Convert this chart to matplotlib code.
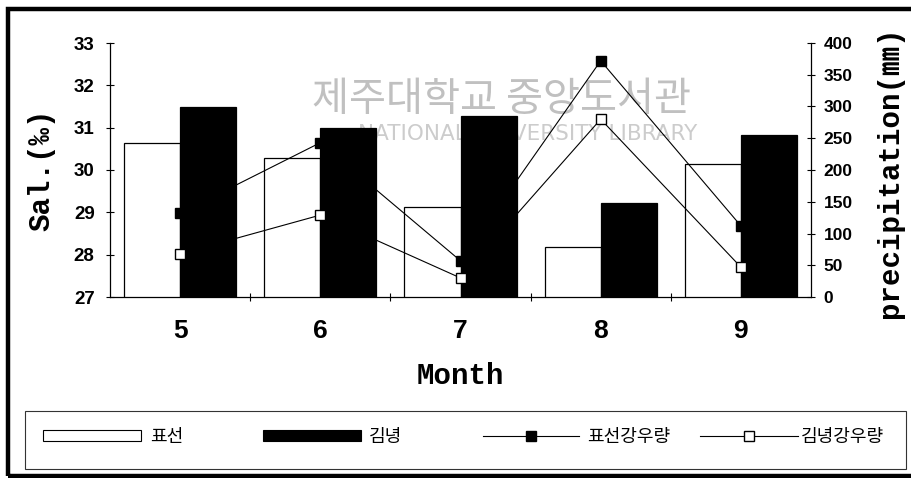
import numpy as np
import matplotlib
matplotlib.use("Agg")
import matplotlib.pyplot as plt
from matplotlib.patches import Patch, Rectangle
from matplotlib.lines import Line2D

# data
months = [5, 6, 7, 8, 9]
month_labels = ["5", "6", "7", "8", "9"]
sal_pyoseon = [30.64, 30.29, 29.13, 28.18, 30.14]
sal_gimnyeong = [31.5, 31.0, 31.28, 29.22, 30.83]
rain_pyoseon = [132, 243, 57, 372, 112]
rain_gimnyeong = [68, 129, 30, 280, 47]
series_names = ["표선", "김녕", "표선강우량", "김녕강우량"]
sal_ticks = [27, 28, 29, 30, 31, 32, 33]
rain_ticks = [0, 50, 100, 150, 200, 250, 300, 350, 400]

W, H = 911, 478
mono = ["Liberation Mono", "Noto Sans CJK KR"]
kr = "Noto Sans CJK KR"

fig = plt.figure(figsize=(W / 100, H / 100), dpi=100)
ax = fig.add_axes([110 / W, 181 / H, 701 / W, 254 / H])

x = np.array(months)

# watermark behind the bars
ax.text(501 / W, 1 - 99 / H, "제주대학교 중앙도서관", transform=fig.transFigure,
        ha="center", va="center", fontsize=29, family=kr, color="#c0c0c0", zorder=0.5)
ax.text(697 / W, 1 - 134 / H, "NATIONAL UNIVERSITY LIBRARY", transform=fig.transFigure,
        ha="right", va="center", fontsize=15.5, family="DejaVu Sans", color="#cccccc", zorder=0.5)

ax.bar(x - 0.2, sal_pyoseon, 0.4, color="white", edgecolor="black", linewidth=0.9)
ax.bar(x + 0.2, sal_gimnyeong, 0.4, color="black", edgecolor="black", linewidth=0.9)
ax.set_xlim(4.5, 9.5)
ax.set_ylim(27, 33)

axp = ax.twinx()
axp.plot(x, rain_pyoseon, color="black", lw=0.8, marker="s", ms=7,
         mfc="black", mec="black")
axp.plot(x, rain_gimnyeong, color="black", lw=0.8, marker="s", ms=7,
         mfc="white", mec="black")
axp.set_ylim(0, 400)

# ticks
ax.set_xticks(months)
ax.set_xticklabels(month_labels, fontsize=19, fontweight="bold", family="Liberation Sans")
ax.set_xticks(x[:-1] + 0.5, minor=True)
ax.tick_params(axis="x", which="major", length=0, pad=16)
ax.tick_params(axis="x", which="minor", length=6, direction="inout", width=0.8)
ax.set_yticks(sal_ticks)
ax.set_yticklabels([str(t) for t in sal_ticks], fontsize=13.5, fontweight="bold",
                   family="Liberation Sans")
ax.tick_params(axis="y", direction="inout", length=6, width=0.8, pad=8)
axp.set_yticks(rain_ticks)
axp.set_yticklabels([str(t) for t in rain_ticks], fontsize=12.5, fontweight="bold",
                    family="Liberation Sans")
axp.tick_params(axis="y", direction="inout", length=6, width=0.8, pad=6)

for s in ["top", "right"]:
    ax.spines[s].set_visible(False)
for s in ["top", "left", "bottom"]:
    axp.spines[s].set_visible(False)
ax.spines["left"].set_linewidth(0.9)
ax.spines["bottom"].set_linewidth(0.9)
axp.spines["right"].set_linewidth(0.9)

# axis labels
ax.set_xlabel("Month", fontsize=21, fontweight="bold", family=mono, va="center")
ax.xaxis.set_label_coords(0.5, (297 - 376) / 254)
ax.set_ylabel("Sal.(‰)", fontsize=21, fontweight="bold", family=mono, va="center")
ax.yaxis.set_label_coords((41 - 110) / 701, 0.5)
axp.set_ylabel("precipitation(㎜)", fontsize=21, fontweight="bold", family=mono,
               va="center", rotation=90)
axp.yaxis.set_label_coords((890 - 110) / 701, 0.49)

# legend, one entry per column
handles = [
    Patch(facecolor="white", edgecolor="black", linewidth=0.8),
    Patch(facecolor="black", edgecolor="black", linewidth=0.8),
    Line2D([], [], color="black", lw=0.8, marker="s", ms=7, mfc="black", mec="black"),
    Line2D([], [], color="black", lw=0.8, marker="s", ms=7, mfc="white", mec="black"),
]
starts = [43, 263, 483, 700]
hlens = [5.4, 5.4, 5.3, 5.4]
tpads = [0.55, 0.45, 0.45, 0.2]
for h, lab, x0, hl, tp in zip(handles, series_names, starts, hlens, tpads):
    fig.legend(handles=[h], labels=[lab], loc="center left",
               bbox_to_anchor=(x0 / W, 1 - 437 / H), frameon=False,
               prop={"family": kr, "size": 13, "weight": "medium"},
               handlelength=hl, handleheight=0.55,
               handletextpad=tp, borderpad=0, borderaxespad=0)

fig.add_artist(Rectangle((25 / W, 1 - 469 / H), (906 - 25) / W, 58 / H,
                         transform=fig.transFigure, fill=False, lw=0.8, ec="#333333"))
# outer frame
fig.add_artist(Rectangle((8 / W, 1 - 476 / H), 1.0, (476 - 9) / H,
                         transform=fig.transFigure, fill=False, lw=3.2, ec="black"))

fig.savefig("out.png", dpi=100)
